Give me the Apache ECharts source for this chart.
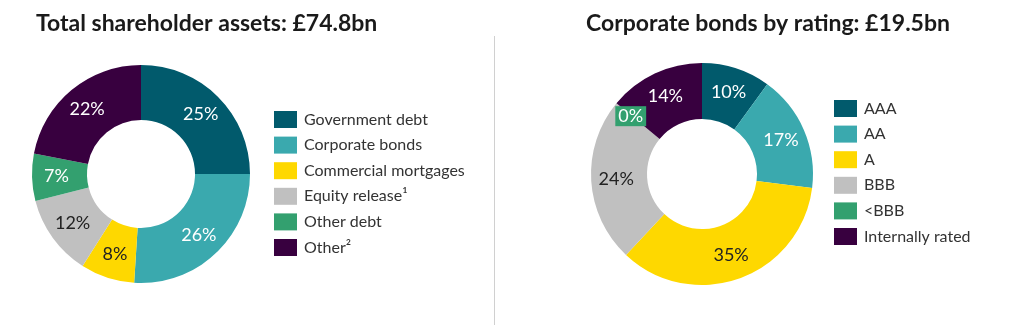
<!DOCTYPE html>
<html>
<head>
<meta charset="utf-8">
<script src="https://cdn.jsdelivr.net/npm/echarts@6/dist/echarts.min.js"></script>
<style>
  html, body { margin: 0; padding: 0; background: #fff; }
  #chart { width: 1015px; height: 325px; }
</style>
</head>
<body>
<div id="chart"></div>
<script>
// Asset mix (left donut)
const assetCategories = ['Government debt', 'Corporate bonds', 'Commercial mortgages', 'Equity release\u00b9', 'Other debt', 'Other\u00b2'];
const assetShares = [25, 26, 8, 12, 7, 22];

// Corporate bond ratings (right donut)
const ratingCategories = ['AAA', 'AA', 'A', 'BBB', '<BBB', 'Internally rated'];
const ratingShares = [10, 17, 35, 24, 0, 14];

const palette = ['#015a6c', '#3aa9ae', '#fed800', '#c0c0c0', '#33a06f', '#38003f'];
const labelColors = ['#fff', '#fff', '#222', '#222', '#fff', '#fff'];

const FONT = 'Lato, "Open Sans", sans-serif';

function buildData(names, values) {
  return names.map((n, i) => ({
    name: n,
    value: values[i],
    itemStyle: { color: palette[i] },
    label: { color: labelColors[i] }
  }));
}

const ratingData = buildData(ratingCategories, ratingShares);
// the zero-share slice gets a tag so its label stays legible
ratingData[4].label = {
  color: '#fff',
  backgroundColor: '#33a06f',
  padding: [1, 3],
  offset: [-5, -3]
};

const chart = echarts.init(document.getElementById('chart'));

const legendBase = {
  orient: 'vertical',
  icon: 'rect',
  padding: 0,
  itemWidth: 23,
  itemHeight: 17,
  itemGap: 8.6,
  selectedMode: false,
  textStyle: { fontFamily: FONT, fontSize: 16, color: '#333', padding: [0, 0, 0, 2] }
};

const pieBase = {
  type: 'pie',
  radius: [54, 109],
  startAngle: 90,
  clockwise: true,
  avoidLabelOverlap: false,
  silent: true,
  label: {
    show: true,
    position: 'inside',
    fontFamily: FONT,
    fontSize: 18,
    formatter: p => p.value + '%'
  },
  labelLine: { show: false },
  emphasis: { disabled: true }
};

const titleText = { fontFamily: FONT, fontWeight: 'bold', fontSize: 23, color: '#1a1a1a' };

chart.setOption({
  animation: false,
  title: [
    { text: 'Total shareholder assets: \u00a374.8bn', left: 36, top: 12, padding: 0, textStyle: titleText },
    { text: 'Corporate bonds by rating: \u00a319.5bn', left: 586, top: 12, padding: 0, textStyle: titleText }
  ],
  legend: [
    Object.assign({}, legendBase, { left: 274, top: 111, data: assetCategories }),
    Object.assign({}, legendBase, { left: 834, top: 100, data: ratingCategories })
  ],
  graphic: [
    {
      type: 'line',
      shape: { x1: 494.5, y1: 36, x2: 494.5, y2: 325 },
      style: { stroke: '#d0d0d0', lineWidth: 1 }
    }
  ],
  series: [
    Object.assign({}, pieBase, {
      center: [141, 174],
      data: buildData(assetCategories, assetShares)
    }),
    Object.assign({}, pieBase, {
      center: [702, 174],
      radius: [55, 111],
      data: ratingData
    })
  ]
});
</script>
</body>
</html>
